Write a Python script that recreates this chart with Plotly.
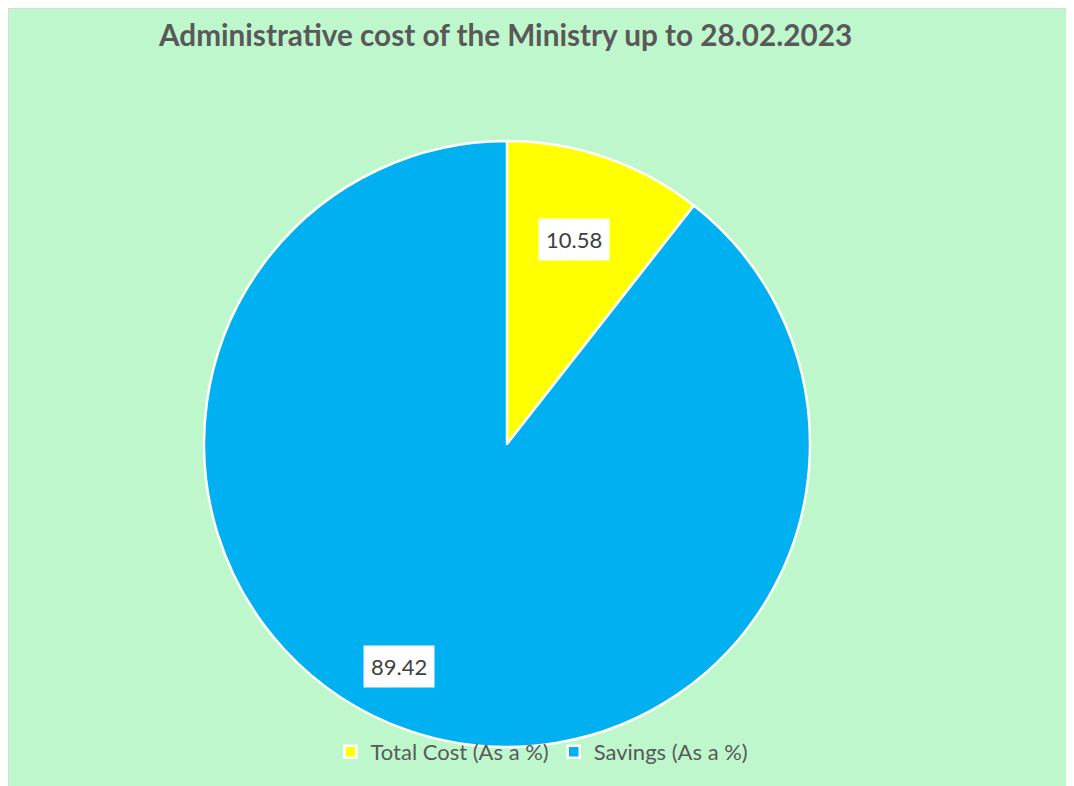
import math
import plotly.graph_objects as go

labels = ["Total Cost (As a %)", "Savings (As a %)"]
values = [10.58, 89.42]
colors = ["#FFFF00", "#00B0F0"]
title_text = "Administrative cost of the Ministry up to 28.02.2023"

W, H = 1074, 786
cx, cy, R = 499, 436, 303
label_frac = [0.71, 0.815]
label_angle_shift = [-1.0, 6.8]

fig = go.Figure()
fig.add_trace(go.Pie(
    labels=labels, values=values, sort=False, direction="clockwise", rotation=0,
    marker=dict(colors=colors, line=dict(color="white", width=2.5)),
    textinfo="none", hoverinfo="label+value",
    domain=dict(x=[(cx - R) / W, (cx + R) / W], y=[1 - (cy + R) / H, 1 - (cy - R) / H]),
))

total = sum(values)
cum = 0.0
annotations = []
for i, v in enumerate(values):
    mid = (cum + v / 2) / total * 360 + label_angle_shift[i]
    cum += v
    d = R * label_frac[i]
    px = cx + d * math.sin(math.radians(mid))
    py = cy - d * math.cos(math.radians(mid))
    annotations.append(dict(
        x=px / W, y=1 - py / H, xref="paper", yref="paper", showarrow=False,
        text=f"{v:.2f}", bgcolor="white", borderpad=7,
        font=dict(family="Lato", size=22, color="#404040"),
        xanchor="center", yanchor="middle",
    ))

annotations.append(dict(
    x=497 / W, y=1 - 26 / H, xref="paper", yref="paper", showarrow=False,
    text=f"<b>{title_text}</b>", font=dict(family="Lato", size=29.7, color="#595959"),
    xanchor="center", yanchor="middle",
))

fig.update_layout(
    width=W, height=H, margin=dict(l=0, r=0, t=0, b=0),
    paper_bgcolor="#BFF7CD", plot_bgcolor="rgba(0,0,0,0)",
    annotations=annotations,
    shapes=[
        dict(type="line", xref="paper", yref="paper", x0=0.5 / W, y0=0, x1=0.5 / W, y1=1,
             line=dict(color="#D9D9D9", width=1), layer="below"),
        dict(type="line", xref="paper", yref="paper", x0=0, y0=1 - 0.5 / H, x1=1, y1=1 - 0.5 / H,
             line=dict(color="#D9D9D9", width=1), layer="below"),
    ],
    legend=dict(orientation="h", x=534 / W, xanchor="center", y=1 - 744 / H, yanchor="middle",
                font=dict(family="Lato", size=22, color="#595959"), bgcolor="rgba(0,0,0,0)",
                itemwidth=30, tracegroupgap=0),
    showlegend=True,
)

fig.write_html("out.html")
